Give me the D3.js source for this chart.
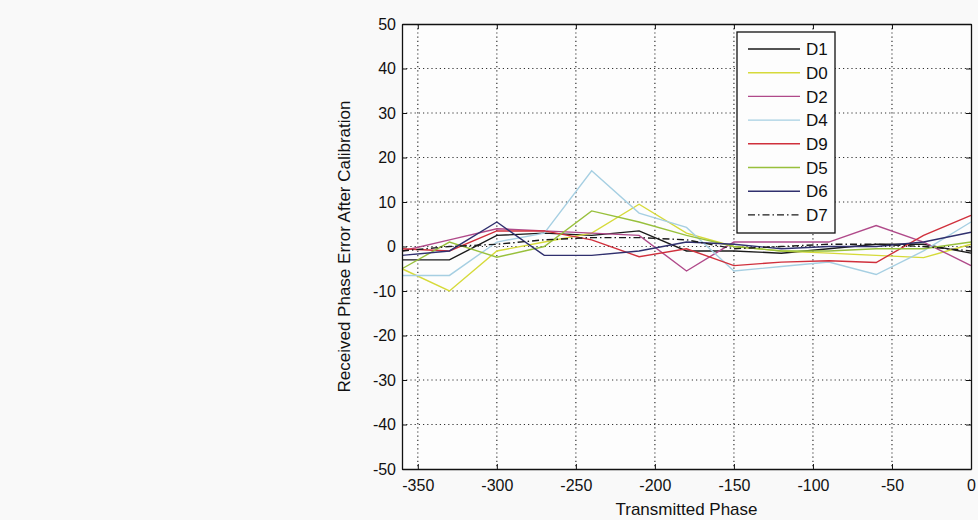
<!DOCTYPE html>
<html>
<head>
<meta charset="utf-8">
<script src="https://cdn.jsdelivr.net/npm/d3@7"></script>
<style>
  body { margin: 0; background: #f9f9f9; }
  text { font-family: "Liberation Sans", Arial, sans-serif; fill: #111; }
</style>
</head>
<body>
<div id="chart"></div>
<script>
// Transmitted phase sample points (deg)
var phases = [-360, -330, -300, -270, -240, -210, -180, -150, -120, -90, -60, -30, 0];

// Received phase error per channel
var D1 = [-3, -3, 2.5, 3, 2.5, 3.5, -1, -1, -1.5, -0.5, 0.5, 0.5, -1.5];
var D0 = [-5, -10, -1, 1, 3, 9.5, 3, 0, -1, -1.5, -2, -2.5, 0.5];
var D2 = [-1, 1.5, 4, 3.5, 3, 2.5, -5.5, 1, 1, 1, 4.7, 1, -4.3];
var D4 = [-6.5, -6.5, 1, 3, 17, 7.5, 4.3, -5.5, -4.5, -3.5, -6.3, -1, 5.5];
var D9 = [-0.5, -1, 3.5, 3.5, 1.5, -2.3, -0.5, -4.3, -3.5, -3.2, -3.6, 2.5, 7];
var D5 = [-5, 1, -2.4, 0, 8, 5.5, 2.5, 0, -1, -1, -0.5, -0.5, 1];
var D6 = [-2, -1, 5.5, -2, -2, -1, 1, 0.5, -0.5, 0, 0, 1, 3.2];
var D7 = [-1, 0, 0.5, 1.5, 2, 2, 1.5, -0.5, 0, 0.5, 0.5, 0, -1];

var seriesNames = ["D1", "D0", "D2", "D4", "D9", "D5", "D6", "D7"];
var seriesValues = [D1, D0, D2, D4, D9, D5, D6, D7];
var seriesColors = ["#1a1a1a", "#d6da3a", "#b04a8a", "#a6cfe2", "#d0303c", "#98c03c", "#30306e", "#1a1a1a"];
var seriesDash = [null, null, null, null, null, null, null, "7,3,1.5,3"];

var xTicks = [-350, -300, -250, -200, -150, -100, -50, 0];
var yTicks = [-50, -40, -30, -20, -10, 0, 10, 20, 30, 40, 50];

var W = 978, H = 520;
var margin = { top: 24, right: 7, bottom: 51, left: 402 },
    width = W - margin.left - margin.right,
    height = H - margin.top - margin.bottom;

var svg = d3.select("#chart")
  .append("svg")
    .attr("width", W)
    .attr("height", H)
  .append("g")
    .attr("transform", "translate(" + margin.left + "," + margin.top + ")");

var x = d3.scaleLinear().domain([-360, 0]).range([0, width]);
var y = d3.scaleLinear().domain([-50, 50]).range([height, 0]);

// plain hyphen minus, like the original
var fmt = function (d) { return String(d); };

// plot background
svg.append("rect")
  .attr("width", width).attr("height", height)
  .attr("fill", "#fdfdfd");

// dotted grid
svg.append("g").selectAll("line")
  .data(xTicks.filter(function (d) { return d > -360 && d < 0; }))
  .enter().append("line")
    .attr("x1", function (d) { return x(d); })
    .attr("x2", function (d) { return x(d); })
    .attr("y1", 0).attr("y2", height)
    .attr("stroke", "#333").attr("stroke-width", 1.2)
    .attr("stroke-dasharray", "1.2,3");
svg.append("g").selectAll("line")
  .data(yTicks.filter(function (d) { return d > -50 && d < 50; }))
  .enter().append("line")
    .attr("y1", function (d) { return y(d); })
    .attr("y2", function (d) { return y(d); })
    .attr("x1", 0).attr("x2", width)
    .attr("stroke", "#333").attr("stroke-width", 1.2)
    .attr("stroke-dasharray", "1.2,3");

// data lines
var line = d3.line()
  .x(function (d, i) { return x(phases[i]); })
  .y(function (d) { return y(d); });

svg.append("g").selectAll("path")
  .data(seriesValues)
  .enter().append("path")
    .attr("d", line)
    .attr("fill", "none")
    .attr("stroke", function (d, i) { return seriesColors[i]; })
    .attr("stroke-width", 1.4)
    .attr("stroke-dasharray", function (d, i) { return seriesDash[i]; });

// axes, MATLAB style: ticks inside, box all round
var tickFont = function (g) {
  g.selectAll("text")
    .style("font-size", "16px")
    .style("font-family", "'Liberation Sans', Arial, sans-serif")
    .attr("fill", "#111");
  g.select(".domain").attr("stroke", "#111").attr("stroke-width", 1.3);
  g.selectAll(".tick line").attr("stroke", "#111");
};

svg.append("g")
  .attr("transform", "translate(0," + height + ")")
  .call(d3.axisBottom(x).tickValues(xTicks).tickFormat(fmt)
    .tickSizeInner(-5).tickSizeOuter(0).tickPadding(11))
  .call(tickFont);

svg.append("g")
  .call(d3.axisTop(x).tickValues(xTicks).tickFormat("")
    .tickSizeInner(-5).tickSizeOuter(0))
  .call(tickFont);

svg.append("g")
  .call(d3.axisLeft(y).tickValues(yTicks).tickFormat(fmt)
    .tickSizeInner(-5).tickSizeOuter(0).tickPadding(6))
  .call(tickFont);

svg.append("g")
  .attr("transform", "translate(" + width + ",0)")
  .call(d3.axisRight(y).tickValues(yTicks).tickFormat("")
    .tickSizeInner(-5).tickSizeOuter(0))
  .call(tickFont);

// axis labels
svg.append("text")
  .attr("x", x(-180))
  .attr("y", height + 46)
  .attr("text-anchor", "middle")
  .style("font-size", "17px")
  .text("Transmitted Phase");

svg.append("text")
  .attr("transform", "rotate(-90)")
  .attr("x", -(y(0)))
  .attr("y", -52)
  .attr("text-anchor", "middle")
  .style("font-size", "17px")
  .text("Received Phase Error After Calibration");

// legend
var legend = svg.append("g")
  .attr("transform", "translate(" + (737 - margin.left) + "," + (32 - margin.top) + ")");

legend.append("rect")
  .attr("width", 98).attr("height", 201)
  .attr("fill", "#fdfdfd")
  .attr("stroke", "#111").attr("stroke-width", 1.3);

var item = legend.selectAll(".item")
  .data(seriesNames)
  .enter().append("g")
    .attr("class", "item")
    .attr("transform", function (d, i) { return "translate(0," + (17 + i * 23.7) + ")"; });

item.append("line")
  .attr("x1", 11).attr("x2", 63)
  .attr("stroke", function (d, i) { return seriesColors[i]; })
  .attr("stroke-width", 1.4)
  .attr("stroke-dasharray", function (d, i) { return seriesDash[i]; });

item.append("text")
  .attr("x", 69)
  .attr("dy", "0.36em")
  .style("font-size", "17px")
  .text(function (d) { return d; });
</script>
</body>
</html>
